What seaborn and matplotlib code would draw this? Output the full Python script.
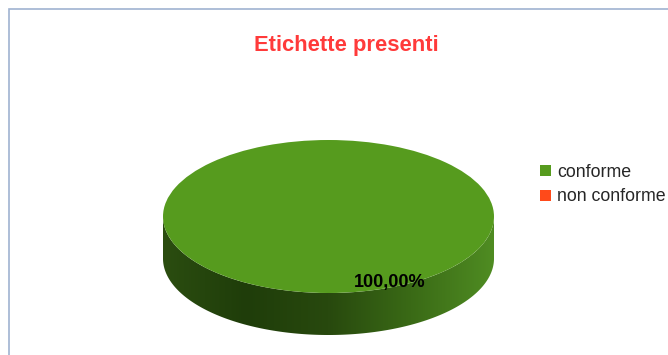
import numpy as np
import matplotlib
matplotlib.use("Agg")
import matplotlib.pyplot as plt
import seaborn as sns
from matplotlib.patches import Polygon, Rectangle
from matplotlib.colors import LinearSegmentedColormap

# ---- data ----
categories = ["conforme", "non conforme"]
values = [100.0, 0.0]
title = "Etichette presenti"

sns.set_theme(style="white")
plt.rcParams["font.family"] = ["Liberation Sans", "DejaVu Sans"]
palette = sns.color_palette(["#569b1e", "#ff4a1a"])

W, H = 668, 355
fig = plt.figure(figsize=(W / 100, H / 100), dpi=100)
fig.patch.set_facecolor("white")

# pie geometry in pixels
cx, cy = 328.5, 216.5      # centre (from top)
rx, ry = 165.5, 76.5
depth = 42.0
D = depth / ry
xl = (-1.05, 1.05)
yl = (-1.0 - D - 0.15, 1.05)
left = cx + xl[0] * rx
bottom = (H - cy) + yl[0] * ry
ax = fig.add_axes([left / W, bottom / H, (xl[1] - xl[0]) * rx / W, (yl[1] - yl[0]) * ry / H])

# side of the 3D disc with a gradient
t = np.linspace(np.pi, 2 * np.pi, 200)
top_edge = np.column_stack([np.cos(t), np.sin(t)])
bot_edge = np.column_stack([np.cos(t[::-1]), np.sin(t[::-1]) - D])
poly = np.vstack([top_edge, [[1, -D]], bot_edge, [[-1, -D]]])
side = Polygon(poly, closed=True, facecolor="none", edgecolor="none")
ax.add_patch(side)
cmap = LinearSegmentedColormap.from_list(
    "side", [(0.0, "#2b4d10"), (0.25, "#1f3d0a"), (0.5, "#28490e"),
             (0.75, "#3a6a16"), (1.0, "#4f8c22")])
grad = np.linspace(0, 1, 256)[None, :]
im = ax.imshow(grad, cmap=cmap, extent=(-1, 1, -1 - D, 0.0), aspect="auto",
               interpolation="bicubic", zorder=1)
im.set_clip_path(side)


def fmt(p):
    return (f"{p:.2f}%".replace(".", ",")) if p > 0 else ""


wedges, texts, autotexts = ax.pie(
    values, colors=palette, startangle=113.3, autopct=fmt, pctdistance=0.94,
    wedgeprops=dict(edgecolor="none", linewidth=0, zorder=2),
    textprops=dict(fontsize=13, fontweight="bold", color="black"))
for w in wedges:
    w.set_zorder(2)
for a in autotexts:
    a.set_zorder(5)
ax.set_aspect("auto")
ax.set_xlim(*xl)
ax.set_ylim(*yl)
ax.axis("off")

# legend
fig.legend(wedges, categories, loc="upper left",
           bbox_to_anchor=(540 / W, 1 - 164 / H), frameon=False,
           fontsize=12.8, handlelength=0.6, handleheight=0.6,
           handletextpad=0.35, labelspacing=0.42, borderpad=0, borderaxespad=0)

# title
fig.text(346 / W, 1 - 45.5 / H, title, ha="center", va="center", fontsize=15.8,
         fontweight="bold", color="#ff3a3a")

# chart frame
fig.add_artist(Rectangle((9 / W, -0.1), 1.0, 1 - 9.5 / H + 0.1, transform=fig.transFigure,
                         facecolor="none", edgecolor="#9fb3d1", linewidth=1.2,
                         clip_on=False))

fig.savefig("out.png", dpi=100)
